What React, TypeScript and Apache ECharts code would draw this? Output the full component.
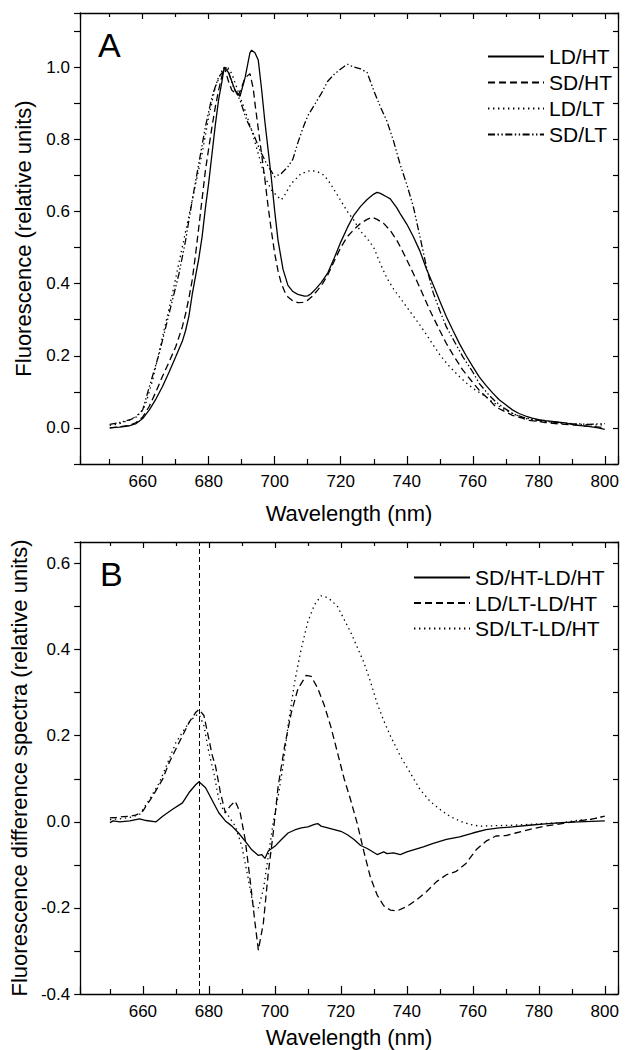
import React, { useEffect, useRef } from "react";
import * as echarts from "echarts";

// ---------- Panel A: fluorescence spectra ----------
const ldHtX = [650, 653, 656, 658, 660, 662, 664, 666, 668, 670, 672, 673, 674, 675, 676, 677, 678, 679, 680, 681, 682, 683, 684, 684.7, 686, 688, 689.5, 691, 692.5, 693, 694, 695, 696, 697, 698, 699, 700, 701, 702.5, 704, 705.5, 707, 709, 710, 711, 712.5, 714, 716, 718, 720, 722, 724, 726, 728, 730, 731, 732, 734, 735, 737, 738, 740, 742, 744, 746, 748, 750, 752, 754, 756, 758, 760, 762, 764, 766, 768, 770, 772, 774, 776, 778, 780, 782, 784, 786, 788, 790, 792, 795, 798, 800];
const ldHtY = [0.0, 0.002, 0.006, 0.012, 0.026, 0.05, 0.08, 0.115, 0.155, 0.197, 0.24, 0.27, 0.31, 0.37, 0.42, 0.47, 0.53, 0.61, 0.68, 0.76, 0.84, 0.91, 0.96, 1.0, 0.985, 0.935, 0.92, 0.97, 1.04, 1.047, 1.04, 1.02, 0.94, 0.85, 0.77, 0.69, 0.6, 0.52, 0.44, 0.395, 0.378, 0.37, 0.365, 0.366, 0.372, 0.386, 0.402, 0.428, 0.47, 0.515, 0.555, 0.59, 0.614, 0.633, 0.648, 0.653, 0.65, 0.64, 0.635, 0.61, 0.594, 0.565, 0.53, 0.49, 0.44, 0.397, 0.352, 0.308, 0.27, 0.233, 0.2, 0.17, 0.141, 0.118, 0.097, 0.078, 0.064, 0.05, 0.04, 0.033, 0.027, 0.023, 0.02, 0.018, 0.016, 0.014, 0.01, 0.007, 0.004, 0.0, -0.004];

const sdHtX = [650, 653, 656, 658, 660, 662, 664, 666, 668, 670, 672, 673, 674, 675, 676, 677, 678, 679, 680, 681, 682, 683, 684, 684.7, 686, 687, 689, 690, 691, 692.5, 693.5, 694, 695, 696, 697, 698, 699, 700, 701, 702, 703, 704, 705.5, 707, 708.5, 710, 711.5, 713, 714.5, 716, 718, 720, 722, 724, 726, 728, 729.5, 731, 733, 735, 737, 739, 742, 744, 747, 750, 752, 754, 757, 760, 762, 765, 767, 770, 772, 775, 777, 780, 782, 785, 788, 792, 796, 800];
const sdHtY = [0.0, 0.003, 0.007, 0.015, 0.03, 0.06, 0.1, 0.143, 0.183, 0.225, 0.28, 0.317, 0.36, 0.41, 0.48, 0.557, 0.635, 0.714, 0.775, 0.835, 0.89, 0.936, 0.975, 1.0, 0.96, 0.936, 0.922, 0.945, 0.97, 0.982, 0.94, 0.9, 0.83, 0.76, 0.69, 0.613, 0.545, 0.483, 0.435, 0.4, 0.378, 0.363, 0.352, 0.347, 0.348, 0.354, 0.366, 0.382, 0.4, 0.423, 0.462, 0.5, 0.53, 0.55, 0.567, 0.578, 0.584, 0.578, 0.567, 0.547, 0.52, 0.485, 0.428, 0.388, 0.326, 0.27, 0.234, 0.203, 0.16, 0.126, 0.104, 0.078, 0.058, 0.044, 0.035, 0.027, 0.021, 0.018, 0.015, 0.012, 0.01, 0.007, 0.004, 0.001];

const ldLtX = [650, 653, 656, 658, 660, 661, 663, 666, 669, 672, 675, 678, 680, 682, 684, 685.5, 687, 689, 691, 693, 695, 697, 699, 701, 702, 703, 705, 708, 711, 713, 715, 717, 720, 722, 724, 726, 728, 730, 732, 734, 736, 738, 740, 742, 744, 746, 748, 750, 752, 754, 756, 758, 760, 762, 764, 766, 768, 770, 773, 776, 779, 782, 786, 790, 795, 800];
const ldLtY = [0.007, 0.012, 0.022, 0.032, 0.049, 0.07, 0.132, 0.252, 0.372, 0.502, 0.631, 0.761, 0.862, 0.945, 0.99, 1.003, 0.982, 0.93, 0.88, 0.825, 0.76, 0.696, 0.659, 0.64, 0.632, 0.645, 0.677, 0.705, 0.714, 0.71, 0.7, 0.675, 0.63, 0.6, 0.575, 0.545, 0.525, 0.5, 0.455, 0.415, 0.385, 0.36, 0.335, 0.31, 0.285, 0.258, 0.23, 0.203, 0.18, 0.16, 0.142, 0.125, 0.11, 0.098, 0.086, 0.072, 0.06, 0.049, 0.036, 0.026, 0.02, 0.017, 0.013, 0.011, 0.009, 0.008];

const sdLtX = [650, 653, 656, 658, 660, 662, 665, 668, 671, 673, 675, 677, 679, 681, 683, 685.5, 687.5, 689.5, 691.5, 693.5, 695.5, 697.5, 700, 702, 704, 705.5, 707, 708.5, 710, 712, 714, 716, 718, 720, 722, 724, 726, 728, 730, 732, 734, 736, 738, 740, 742, 744, 746, 748, 750, 752, 755, 757, 760, 762, 765, 767, 770, 772, 775, 778, 782, 786, 790, 795, 800];
const sdLtY = [0.01, 0.015, 0.022, 0.03, 0.05, 0.114, 0.206, 0.317, 0.428, 0.52, 0.631, 0.733, 0.835, 0.918, 0.973, 1.0, 0.945, 0.908, 0.853, 0.816, 0.77, 0.733, 0.696, 0.705, 0.724, 0.745, 0.79, 0.83, 0.865, 0.895, 0.925, 0.96, 0.98, 0.995, 1.008, 1.0, 0.995, 0.985, 0.935, 0.89, 0.85, 0.795, 0.73, 0.675, 0.613, 0.53, 0.445, 0.375, 0.325, 0.28, 0.23, 0.197, 0.155, 0.123, 0.09, 0.072, 0.052, 0.04, 0.03, 0.024, 0.018, 0.015, 0.012, 0.01, 0.012];

// ---------- Panel B: difference spectra ----------
const dSdHtX = [650, 651, 653, 656, 659, 661, 664, 666, 669, 672, 674, 676, 677, 679, 681, 683, 685, 687, 689, 691, 693, 695, 696, 697, 698, 700, 702, 704, 706, 708, 710, 712, 713, 714, 716, 718, 720, 722, 724, 726, 728, 731, 733, 734, 736, 738, 740, 742, 745, 748, 752, 756, 760, 764, 768, 772, 777, 782, 787, 792, 796, 800];
const dSdHtY = [-0.002, 0.002, 0.0, 0.002, 0.007, 0.003, 0.0, 0.013, 0.029, 0.044, 0.068, 0.086, 0.093, 0.079, 0.05, 0.021, 0.002, -0.01, -0.026, -0.045, -0.065, -0.078, -0.076, -0.085, -0.068, -0.057, -0.041, -0.026, -0.019, -0.014, -0.012, -0.006, -0.004, -0.01, -0.014, -0.018, -0.022, -0.03, -0.041, -0.055, -0.062, -0.076, -0.07, -0.074, -0.072, -0.076, -0.07, -0.065, -0.058, -0.05, -0.041, -0.035, -0.026, -0.018, -0.014, -0.012, -0.008, -0.005, -0.002, 0.0, 0.001, 0.002];

const dLdLtX = [650, 652, 654, 656, 658, 660, 661, 663, 666, 668, 670, 672, 674, 676, 677, 678.5, 680, 681, 682, 683.5, 685, 686.5, 688, 689.5, 691, 692.5, 694, 695, 696.5, 698, 699.5, 701, 703, 705, 707, 709.5, 711, 713, 715, 717, 719, 721, 723, 725, 727, 729, 731, 733, 735, 737, 740, 743, 746, 749, 752, 755, 758, 761, 764, 767, 770, 773, 777, 782, 787, 792, 796, 800];
const dLdLtY = [0.009, 0.01, 0.012, 0.013, 0.016, 0.025, 0.037, 0.06, 0.099, 0.138, 0.169, 0.2, 0.231, 0.254, 0.261, 0.247, 0.192, 0.155, 0.13, 0.068, 0.021, 0.037, 0.048, 0.021, -0.041, -0.135, -0.236, -0.298, -0.236, -0.119, -0.026, 0.083, 0.177, 0.254, 0.309, 0.34, 0.338, 0.31, 0.27, 0.22, 0.16, 0.1, 0.05, -0.005, -0.07, -0.13, -0.17, -0.195, -0.205, -0.207, -0.197, -0.181, -0.162, -0.139, -0.123, -0.115, -0.096, -0.065, -0.045, -0.033, -0.032, -0.026, -0.018, -0.01, -0.004, 0.002, 0.006, 0.013];

const dSdLtX = [650, 653, 656, 659, 662, 665, 668, 670, 672, 674, 676, 677, 678.5, 680, 681.5, 683, 684.5, 686, 688, 690, 692, 693.5, 695, 696.5, 698, 699.5, 701, 702.5, 704, 706, 708, 710, 712, 714, 715.5, 717, 719, 721, 723, 725, 727, 729, 731, 733, 735, 738, 741, 744, 747, 750, 753, 756, 759, 762, 767, 772, 777, 782, 787, 792, 796, 800];
const dSdLtY = [0.005, 0.007, 0.01, 0.017, 0.052, 0.091, 0.146, 0.184, 0.208, 0.231, 0.247, 0.25, 0.223, 0.161, 0.114, 0.052, 0.025, 0.013, -0.01, -0.057, -0.135, -0.197, -0.2, -0.158, -0.08, -0.002, 0.06, 0.13, 0.223, 0.325, 0.402, 0.465, 0.504, 0.525, 0.522, 0.515, 0.5, 0.47, 0.44, 0.405, 0.37, 0.325, 0.275, 0.235, 0.2, 0.153, 0.114, 0.075, 0.048, 0.029, 0.013, 0.002, -0.006, -0.01, -0.009, -0.008, -0.006, -0.004, -0.002, 0.004, 0.006, 0.013];

const namesA = ["LD/HT", "SD/HT", "LD/LT", "SD/LT"];
const namesB = ["SD/HT-LD/HT", "LD/LT-LD/HT", "SD/LT-LD/HT"];
const markerWavelength = 677;

const FONT = "'Liberation Sans', Arial, sans-serif";

const zip = (xs: number[], ys: number[]) => xs.map((x, i) => [x, ys[i]]);

const xFmt = (v: number) => (Math.abs(v % 20) < 1e-6 ? String(Math.round(v)) : "");
const yFmt = (v: number) => {
  const t = v * 10;
  const r = Math.round(t);
  if (Math.abs(t - r) > 1e-6 || r % 2 !== 0) return "";
  return (r / 10).toFixed(1);
};

const SOLID: any = "solid";
const DASH: any = [7, 4];
const DOT: any = [1.4, 3.6];
const DASHDOTDOT: any = [7, 2.5, 1.4, 2.5, 1.4, 2.5];

function xAxis(gridIndex: number, bottom: boolean, nameGap: number) {
  return {
    type: "value",
    gridIndex,
    position: bottom ? "bottom" : "top",
    min: 641,
    max: 804,
    splitNumber: 8,
    axisLine: { show: true, onZero: false, lineStyle: { color: "#000", width: 1.3 } },
    axisTick: { show: true, inside: true, length: bottom ? 8 : 6, lineStyle: { color: "#000", width: 1.2 } },
    minorTick: { show: true, splitNumber: 2, length: bottom ? 5 : 4, lineStyle: { color: "#000", width: 1.2 } },
    splitLine: { show: false },
    minorSplitLine: { show: false },
    axisLabel: { show: bottom, formatter: xFmt, fontSize: 17, color: "#000", fontFamily: FONT, margin: 9 },
    name: bottom ? "Wavelength (nm)" : "",
    nameLocation: "middle",
    nameGap,
    nameTextStyle: { fontSize: 22, color: "#000", fontFamily: FONT },
  };
}

function yAxis(gridIndex: number, left: boolean, min: number, max: number, name: string, nameGap: number) {
  return {
    type: "value",
    gridIndex,
    position: left ? "left" : "right",
    min,
    max,
    interval: 0.1,
    axisLine: { show: true, onZero: false, lineStyle: { color: "#000", width: 1.3 } },
    axisTick: { show: true, inside: !left, length: left ? 6 : 5, lineStyle: { color: "#000", width: 1.2 } },
    splitLine: { show: false },
    axisLabel: { show: left, formatter: yFmt, fontSize: 17, color: "#000", fontFamily: FONT, margin: 10 },
    name: left ? name : "",
    nameLocation: "middle",
    nameGap,
    nameTextStyle: { fontSize: 22, color: "#000", fontFamily: FONT },
  };
}

function line(name: string, xs: number[], ys: number[], type: any, xi: number, yi: number, extra: any = {}) {
  return {
    name,
    type: "line",
    xAxisIndex: xi,
    yAxisIndex: yi,
    data: zip(xs, ys),
    symbol: "none",
    showSymbol: false,
    smooth: false,
    lineStyle: { color: "#000", width: 1.3, type },
    itemStyle: { color: "#000" },
    emphasis: { disabled: true },
    ...extra,
  };
}

function legend(left: number, top: number, gap: number, data: string[]) {
  return {
    orient: "vertical",
    left,
    top,
    padding: 0,
    itemWidth: 56,
    itemHeight: 14,
    itemGap: gap,
    data,
    selectedMode: false,
    itemStyle: { opacity: 0, borderWidth: 0 },
    textStyle: { fontSize: 21, color: "#000", fontFamily: FONT },
  };
}

export default function App() {
  const ref = useRef<HTMLDivElement>(null);
  useEffect(() => {
    if (!ref.current) return;
    const chart = echarts.init(ref.current, undefined, { renderer: "svg" });
    const option: any = {
      animation: false,
      backgroundColor: "#fff",
      grid: [
        { left: 80, top: 13, width: 538, height: 451 },
        { left: 80, top: 542, width: 538, height: 452 },
      ],
      xAxis: [xAxis(0, true, 38), xAxis(0, false, 0), xAxis(1, true, 32), xAxis(1, false, 0)],
      yAxis: [
        yAxis(0, true, -0.1, 1.15, "Fluorescence (relative units)", 46),
        yAxis(0, false, -0.1, 1.15, "", 0),
        yAxis(1, true, -0.4, 0.65, "Fluorescence difference spectra (relative units)", 46),
        yAxis(1, false, -0.4, 0.65, "", 0),
      ],
      legend: [legend(487, 46, 5, namesA), legend(413, 567, 4.5, namesB)],
      graphic: [
        { type: "text", left: 98, top: 28, style: { text: "A", font: `34px ${FONT}`, fill: "#000" } },
        { type: "text", left: 100, top: 557, style: { text: "B", font: `34px ${FONT}`, fill: "#000" } },
      ],
      series: [
        line(namesA[0], ldHtX, ldHtY, SOLID, 0, 0),
        line(namesA[1], sdHtX, sdHtY, DASH, 0, 0),
        line(namesA[2], ldLtX, ldLtY, DOT, 0, 0),
        line(namesA[3], sdLtX, sdLtY, DASHDOTDOT, 0, 0),
        line(namesB[0], dSdHtX, dSdHtY, SOLID, 2, 2, {
          markLine: {
            silent: true,
            symbol: ["none", "none"],
            label: { show: false },
            lineStyle: { color: "#000", width: 1, type: [5, 3] },
            data: [{ xAxis: markerWavelength }],
          },
        }),
        line(namesB[1], dLdLtX, dLdLtY, DASH, 2, 2),
        line(namesB[2], dSdLtX, dSdLtY, DOT, 2, 2),
      ],
    };
    chart.setOption(option);
    return () => chart.dispose();
  }, []);
  return (
    <div
      ref={ref}
      style={{ position: "absolute", left: 0, top: 0, width: 632, height: 1050, background: "#fff" }}
    />
  );
}
